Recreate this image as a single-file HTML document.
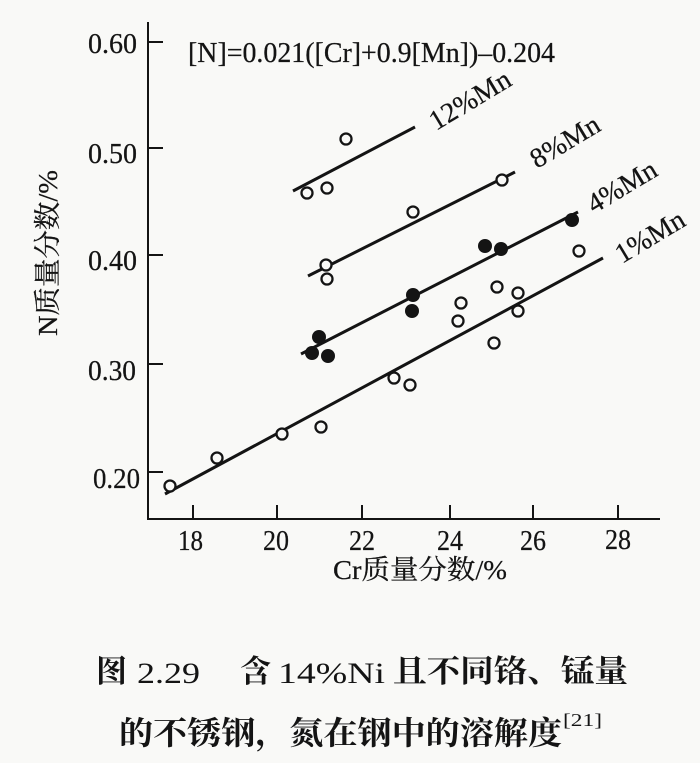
<!DOCTYPE html>
<html>
<head>
<meta charset="utf-8">
<style>
  html,body{margin:0;padding:0;background:#f9f9f7;}
  svg{display:block;}
  .lat{font-family:"Liberation Serif","Noto Serif CJK SC",serif;fill:#141414;stroke:#141414;stroke-width:0.25;}
  .cap{font-family:"Liberation Serif","Noto Serif CJK SC",serif;fill:#141414;font-weight:bold;}
</style>
</head>
<body>
<svg width="700" height="763" viewBox="0 0 700 763" xmlns="http://www.w3.org/2000/svg">
  <rect x="0" y="0" width="700" height="763" fill="#f9f9f7"/>

  <!-- axes -->
  <g stroke="#141414" stroke-width="2" fill="none">
    <line x1="148" y1="22" x2="148" y2="520"/>
    <line x1="147" y1="519" x2="660" y2="519"/>
    <!-- y ticks -->
    <line x1="148" y1="42" x2="163" y2="42"/>
    <line x1="148" y1="148" x2="163" y2="148"/>
    <line x1="148" y1="255" x2="163" y2="255"/>
    <line x1="148" y1="364" x2="163" y2="364"/>
    <line x1="148" y1="472" x2="163" y2="472"/>
    <!-- x ticks -->
    <line x1="193" y1="519" x2="193" y2="505"/>
    <line x1="277" y1="519" x2="277" y2="505"/>
    <line x1="362" y1="519" x2="362" y2="505"/>
    <line x1="450" y1="519" x2="450" y2="505"/>
    <line x1="533" y1="519" x2="533" y2="505"/>
    <line x1="618" y1="519" x2="618" y2="505"/>
  </g>

  <!-- y tick labels -->
  <g class="lat" font-size="28">
    <text x="88" y="53" textLength="49" lengthAdjust="spacingAndGlyphs">0.60</text>
    <text x="88" y="163" textLength="49" lengthAdjust="spacingAndGlyphs">0.50</text>
    <text x="88" y="270" textLength="49" lengthAdjust="spacingAndGlyphs">0.40</text>
    <text x="88" y="380" textLength="48" lengthAdjust="spacingAndGlyphs">0.30</text>
    <text x="93" y="488" textLength="47" lengthAdjust="spacingAndGlyphs">0.20</text>
  </g>

  <!-- x tick labels -->
  <g class="lat" font-size="28">
    <text x="178" y="550" textLength="25" lengthAdjust="spacingAndGlyphs">18</text>
    <text x="263" y="550" textLength="26" lengthAdjust="spacingAndGlyphs">20</text>
    <text x="349" y="550" textLength="26" lengthAdjust="spacingAndGlyphs">22</text>
    <text x="437" y="550" textLength="26" lengthAdjust="spacingAndGlyphs">24</text>
    <text x="520" y="550" textLength="26" lengthAdjust="spacingAndGlyphs">26</text>
    <text x="605" y="549" textLength="26" lengthAdjust="spacingAndGlyphs">28</text>
  </g>

  <!-- axis titles -->
  <text class="lat" x="333" y="579" font-size="27" textLength="174" lengthAdjust="spacingAndGlyphs">Cr质量分数/%</text>
  <text class="lat" font-size="27" text-anchor="middle" textLength="166" lengthAdjust="spacingAndGlyphs" transform="translate(57,253) rotate(-90)">N质量分数/%</text>

  <!-- equation -->
  <text class="lat" x="188" y="62" font-size="28" textLength="367" lengthAdjust="spacingAndGlyphs">[N]=0.021([Cr]+0.9[Mn])–0.204</text>

  <!-- fit lines -->
  <g stroke="#141414" stroke-width="3" stroke-linecap="butt">
    <line x1="293" y1="191" x2="415" y2="127"/>
    <line x1="308" y1="276" x2="515" y2="172"/>
    <line x1="301" y1="354" x2="578" y2="212"/>
    <line x1="165" y1="494" x2="603" y2="258"/>
  </g>

  <!-- line labels -->
  <g class="lat" font-size="28">
    <text transform="translate(436,131) rotate(-31)">12%Mn</text>
    <text transform="translate(537,169) rotate(-31)">8%Mn</text>
    <text transform="translate(594,214) rotate(-31)">4%Mn</text>
    <text transform="translate(622,264) rotate(-31)">1%Mn</text>
  </g>

  <!-- open circles -->
  <g fill="#f9f9f7" stroke="#141414" stroke-width="2.3">
    <!-- 12% -->
    <circle cx="307" cy="193" r="5.5"/>
    <circle cx="327" cy="188" r="5.5"/>
    <circle cx="346" cy="139" r="5.5"/>
    <!-- 8% -->
    <circle cx="326" cy="265" r="5.5"/>
    <circle cx="327" cy="279" r="5.5"/>
    <circle cx="413" cy="212" r="5.5"/>
    <circle cx="502" cy="180" r="5.5"/>
    <!-- 1% -->
    <circle cx="170" cy="486" r="5.5"/>
    <circle cx="217" cy="458" r="5.5"/>
    <circle cx="282" cy="434" r="5.5"/>
    <circle cx="321" cy="427" r="5.5"/>
    <circle cx="394" cy="378" r="5.5"/>
    <circle cx="410" cy="385" r="5.5"/>
    <circle cx="461" cy="303" r="5.5"/>
    <circle cx="458" cy="321" r="5.5"/>
    <circle cx="497" cy="287" r="5.5"/>
    <circle cx="518" cy="293" r="5.5"/>
    <circle cx="518" cy="311" r="5.5"/>
    <circle cx="494" cy="343" r="5.5"/>
    <circle cx="579" cy="251" r="5.5"/>
  </g>

  <!-- filled circles (4%) -->
  <g fill="#141414">
    <circle cx="319" cy="337" r="7"/>
    <circle cx="312" cy="353" r="7"/>
    <circle cx="328" cy="356" r="7"/>
    <circle cx="413" cy="295" r="7"/>
    <circle cx="412" cy="311" r="7"/>
    <circle cx="485" cy="246" r="7"/>
    <circle cx="501" cy="249" r="7"/>
    <circle cx="572" cy="220" r="7"/>
  </g>

  <!-- caption line 1 -->
  <g class="cap" font-size="31">
    <text x="96" y="682">图</text>
    <text x="137" y="683" font-weight="normal" textLength="63" lengthAdjust="spacingAndGlyphs" font-size="30">2.29</text>
    <text x="240" y="682">含</text>
    <text x="278" y="683" font-weight="normal" textLength="107" lengthAdjust="spacingAndGlyphs" font-size="30">14%Ni</text>
    <text x="393" y="682" textLength="235" lengthAdjust="spacingAndGlyphs">且不同铬、锰量</text>
  </g>
  <!-- caption line 2 -->
  <g class="cap" font-size="32">
    <text x="119" y="744" textLength="443" lengthAdjust="spacingAndGlyphs">的不锈钢，氮在钢中的溶解度</text>
    <text x="563" y="726" font-size="18" font-weight="normal" textLength="39" lengthAdjust="spacingAndGlyphs">[21]</text>
  </g>
</svg>
</body>
</html>
